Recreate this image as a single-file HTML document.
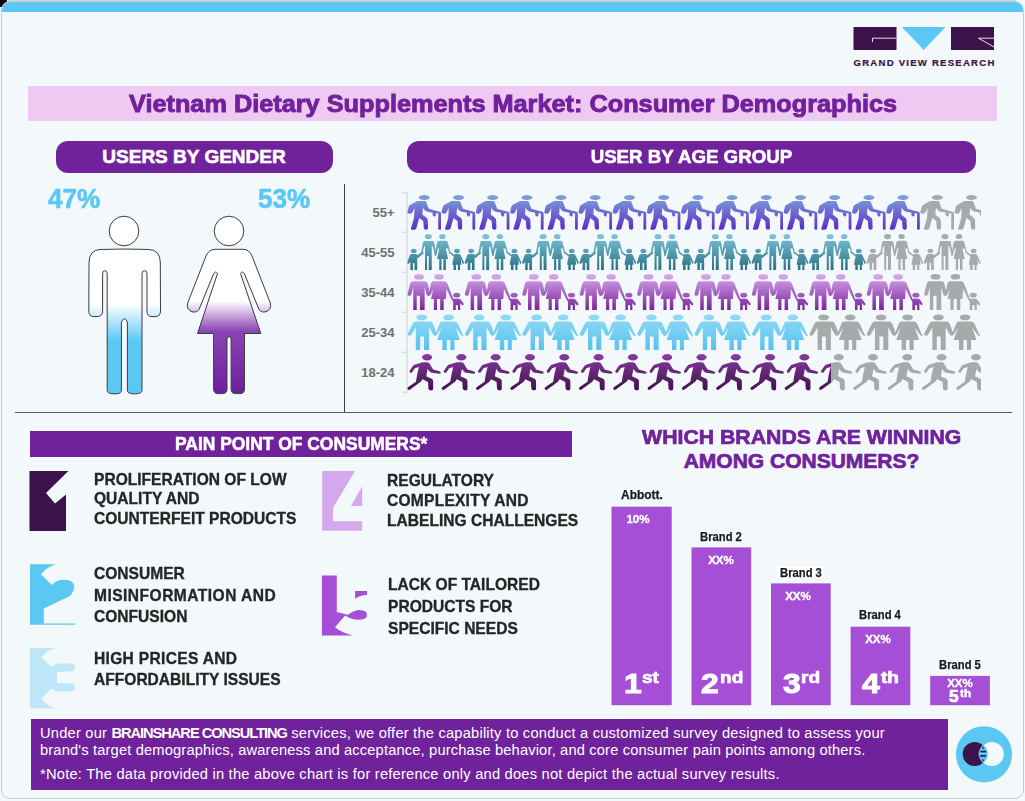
<!DOCTYPE html>
<html><head><meta charset="utf-8">
<style>
*{margin:0;padding:0;box-sizing:border-box}
html,body{width:1025px;height:801px;overflow:hidden;background:#f3f8fb;font-family:"Liberation Sans",sans-serif}
.a{position:absolute}
#frame{position:absolute;left:0.5px;top:0.5px;width:1023.5px;height:798.7px;border:1.7px solid #cbcbcb;border-radius:9px;overflow:hidden;background:#f3f8fb}
#stripe{position:absolute;left:0;top:0;width:100%;height:10px;background:#5bc8f4}
.pill{position:absolute;background:#70219c;border-radius:12px;color:#fff;font-weight:bold;text-align:center;white-space:nowrap;-webkit-text-stroke:0.6px #fff}
.nw{white-space:nowrap}
.item{position:absolute;color:#262626;font-weight:bold;font-size:16.7px;white-space:nowrap;transform-origin:0 0;transform:scaleX(0.933);-webkit-text-stroke:0.35px #262626}
.bar{position:absolute;background:#a44fd6}
.blab{position:absolute;color:#1a1a1a;font-weight:bold;font-size:12.2px;white-space:nowrap;text-align:center;transform-origin:50% 0;transform:scaleX(0.92);-webkit-text-stroke:0.25px #1a1a1a}
.bval{position:absolute;color:#fff;font-weight:bold;font-size:11px;white-space:nowrap;text-align:center;-webkit-text-stroke:0.35px #fff;transform-origin:50% 0;transform:scaleX(1.05)}
.rk{position:absolute;color:#fff;font-weight:bold;white-space:nowrap;line-height:1;transform-origin:0 0}
.rank{position:absolute;color:#fff;font-weight:bold;font-size:29px;white-space:nowrap;text-align:center;line-height:1}
.rank sup{font-size:17px;vertical-align:top;position:relative;top:-2px}
.alab{position:absolute;color:#707070;font-weight:bold;font-size:13px;white-space:nowrap;text-align:right;width:60px}
</style></head><body>
<div class="a" style="left:0;top:0;width:6.5px;height:6.5px;background:#000;border-bottom-right-radius:3px"></div>
<div id="frame"><div id="stripe"></div></div>
<div class="a" style="left:8px;top:0;width:1008px;height:1px;background:#c6d9e1"></div>

<!-- logo -->
<svg class="a" style="left:850px;top:24px" width="150" height="46" viewBox="850 24 150 46">
  <rect x="853.5" y="27" width="43" height="23" fill="#3b1249"/>
  <polyline points="872.5,42 872.5,38.2 896.5,38.2" fill="none" stroke="#f3f8fb" stroke-width="0.9"/>
  <polygon points="902,27 945.5,27 923.7,50" fill="#5bc8f4"/>
  <rect x="951" y="27" width="43" height="23" fill="#3b1249"/>
  <polyline points="994,38.2 978.5,38.2 994,47" fill="none" stroke="#f3f8fb" stroke-width="0.9"/>
</svg>
<div id="gvr" class="a nw" style="left:853.5px;top:56.8px;font-size:9.6px;font-weight:bold;letter-spacing:1.22px;color:#3b1249;-webkit-text-stroke:0.2px #3b1249">GRAND VIEW RESEARCH</div>


<svg class="a" style="left:0;top:0" width="1025" height="801" viewBox="0 0 1025 801">
<defs>
<linearGradient id="gm" gradientUnits="userSpaceOnUse" x1="0" y1="304" x2="0" y2="341"><stop offset="0" stop-color="#ffffff"/><stop offset="1" stop-color="#5bc8f4"/></linearGradient>
<linearGradient id="gf" gradientUnits="userSpaceOnUse" x1="0" y1="301" x2="0" y2="393"><stop offset="0" stop-color="#ffffff"/><stop offset="0.33" stop-color="#8a44b4"/><stop offset="1" stop-color="#6e1f9c"/></linearGradient>
</defs>
<!-- male -->
<circle cx="124" cy="231" r="14.8" fill="#fff" stroke="#3c3c46" stroke-width="1"/>
<path fill="url(#gm)" stroke="#3c3c46" stroke-width="1" d="M100,249.5 Q124.5,248.5 149,249.5 Q159.8,250 160.3,262 L160.5,311 Q160.5,316.6 155,316.6 L152,316.6 Q147,316.6 147,311 L147,273.5 Q147,270.7 144.5,270.7 Q142,270.7 142,273.5 L142,390 Q142,393.8 136,393.8 L133,393.8 Q127.4,393.8 127.4,390 L127.4,322 Q124.4,315.5 121.4,322 L121.4,390 Q121.4,393.8 116,393.8 L113,393.8 Q107.2,393.8 107.2,390 L107.2,273.5 Q107.2,270.7 104.9,270.7 Q102.6,270.7 102.6,273.5 L102.6,311 Q102.6,316.6 97,316.6 L94,316.6 Q88.8,316.6 88.8,311 L89,262 Q89.5,250 100,249.5 Z"/>
<!-- female -->
<circle cx="229" cy="231" r="14.8" fill="#fff" stroke="#3c3c46" stroke-width="1"/>
<path fill="url(#gf)" stroke="#3c3c46" stroke-width="1" d="M215,249.3 L243.5,249.3 Q249,249.3 252,256 L270.3,303 Q272,309.5 266,311.8 Q261,312.8 259,309.5 L244.5,274 Q242.5,270.3 240.5,273.5 L260.8,333.5 L244.5,333.5 L244.5,389 Q244.5,393.6 240,393.6 L235.5,393.6 Q231.1,393.6 231.1,389 L231.1,339 Q229,333.5 227,339 L227,389 Q227,393.6 222.5,393.6 L218,393.6 Q213.6,393.6 213.6,389 L213.6,333.5 L197.5,333.5 L217.5,273.5 Q215.5,270.3 213.5,274 L199,309.5 Q197,312.8 192,311.8 Q186,309.5 187.7,303 L206,256 Q209,249.3 215,249.3 Z"/>
<!-- age axis -->
<g stroke="#dadde0" stroke-width="1.5" fill="none">
<line x1="407" y1="192" x2="407" y2="393"/>
<line x1="402" y1="192.6" x2="407" y2="192.6"/>
<line x1="402" y1="232.3" x2="407" y2="232.3"/>
<line x1="402" y1="272.3" x2="407" y2="272.3"/>
<line x1="402" y1="312.3" x2="407" y2="312.3"/>
<line x1="402" y1="352.4" x2="407" y2="352.4"/>
<line x1="402" y1="392.3" x2="407" y2="392.3"/>
</g>
<defs>
<linearGradient id="g55" gradientUnits="userSpaceOnUse" x1="0" y1="194.5" x2="0" y2="230.5"><stop offset="0" stop-color="#7ea6da"/><stop offset="1" stop-color="#5a2cc6"/></linearGradient>
<linearGradient id="g45" gradientUnits="userSpaceOnUse" x1="0" y1="234.0" x2="0" y2="270.0"><stop offset="0" stop-color="#80c6da"/><stop offset="1" stop-color="#2b7186"/></linearGradient>
<linearGradient id="g35" gradientUnits="userSpaceOnUse" x1="0" y1="274.0" x2="0" y2="310.0"><stop offset="0" stop-color="#d9abf2"/><stop offset="1" stop-color="#7a2398"/></linearGradient>
<linearGradient id="g25" gradientUnits="userSpaceOnUse" x1="0" y1="314.0" x2="0" y2="350.0"><stop offset="0" stop-color="#93daf5"/><stop offset="1" stop-color="#58c2f0"/></linearGradient>
<linearGradient id="g18" gradientUnits="userSpaceOnUse" x1="0" y1="354.0" x2="0" y2="390.0"><stop offset="0" stop-color="#8b3aa2"/><stop offset="1" stop-color="#3f144d"/></linearGradient>
<g id="ic_old" transform="translate(-1.8,-2.5) scale(0.04993)">
<ellipse cx="370" cy="110" rx="108" ry="50"/>
<path d="M230,180 L390,180 Q410,190 420,230 L460,335 L580,370 L680,395 Q705,400 705,430 L705,735 Q705,755 680,755 Q650,755 650,735 L650,430 L605,420 L600,470 Q590,500 560,485 L535,460 L540,415 L420,390 Q380,375 360,340 L345,310 L330,450 L420,520 Q440,540 440,570 L445,720 Q445,755 405,755 Q365,750 360,720 L350,580 L270,520 L210,730 Q195,755 160,755 L120,755 Q90,750 105,720 L165,520 L175,320 L135,400 Q120,440 80,435 Q25,425 35,390 L60,290 Q70,260 110,245 Z"/>
</g>
<g id="ic_run" transform="translate(-2.6,-2) scale(0.07315)">
<ellipse cx="302" cy="72" rx="68" ry="43"/>
<path d="M240,140 L305,140 Q335,145 345,175 L385,240 L470,262 Q500,272 488,292 L470,297 L370,285 Q345,280 330,260 L310,230 L290,330 L365,365 Q385,378 385,400 L385,505 Q385,525 355,525 Q320,522 320,500 L315,410 L240,372 L215,405 L70,512 Q50,527 35,507 Q28,490 45,478 L150,405 L168,300 L190,205 L135,222 L100,272 Q85,292 68,280 Q52,265 68,248 L108,192 Q120,176 140,172 Z"/>
</g>
<g id="ic_f4" transform="translate(-2.6,-2) scale(0.06341)">
<ellipse cx="138" cy="300" rx="45" ry="34"/>
<path d="M100,345 L175,345 Q195,348 200,365 L280,315 L300,330 L205,410 L192,410 L192,600 L150,600 L150,490 L125,490 L125,600 L85,600 L85,470 L60,500 Q40,505 35,485 L70,380 Q78,350 100,345 Z"/>
<ellipse cx="368" cy="72" rx="55" ry="42"/>
<path d="M300,142 L440,142 Q458,146 462,170 L492,345 Q494,374 473,374 L441.6,235 Q437,226 432,226 L421.8,226 L421.8,600 L374.6,600 L374.6,378 L347,378 L347,600 L315.3,600 L315.3,226 L305,226 Q300,226 298,235 L276,347 L212,394 Q194,394 198,372 L256,318 L282,170 Q286,146 300,142 Z"/>
<ellipse cx="590" cy="72" rx="52" ry="40"/>
<path d="M535,138 L650,138 Q668,142 675,165 L712,310 L790,370 L778,390 L695,330 L680,260 L645,260 L680,425 L645,425 L645,600 L605,600 L605,425 L575,425 L575,600 L540,600 L540,425 L505,425 L540,260 L520,260 L490,375 L468,370 L505,165 Q515,142 535,138 Z"/>
<ellipse cx="820" cy="300" rx="45" ry="35"/>
<path d="M785,345 L855,345 Q872,348 880,370 L930,480 Q935,500 912,505 L880,430 L890,515 L868,515 L868,600 L835,600 L835,515 L805,515 L805,600 L765,600 L765,515 L745,515 L760,420 L775,390 L765,385 Q770,350 785,345 Z"/>
</g>
<g id="ic_f3" transform="translate(-2.6,-2) scale(0.06341)">
<ellipse cx="220" cy="75" rx="78" ry="45"/>
<path d="M120,145 L320,145 Q352,150 360,185 L400,350 Q400,378 372,378 Q345,375 340,350 L310,240 L310,600 L235,600 L235,375 L185,375 L185,600 L130,600 L130,240 L100,355 Q90,380 62,375 Q35,368 40,345 L80,185 Q92,150 120,145 Z"/>
<ellipse cx="535" cy="75" rx="75" ry="45"/>
<path d="M440,145 L625,145 Q660,150 672,185 L760,420 Q758,445 740,440 L655,270 L645,425 L610,425 L610,600 L555,600 L555,425 L505,425 L505,600 L455,600 L455,425 L410,425 L445,270 L405,360 L375,360 L405,190 Q415,152 440,145 Z"/>
<ellipse cx="815" cy="365" rx="55" ry="38"/>
<path d="M775,420 L855,420 Q875,425 885,445 L925,500 Q928,530 900,525 L870,490 L870,600 L835,600 L835,525 L800,525 L800,600 L760,600 L760,470 L745,455 L750,425 Z"/>
</g>
<g id="ic_cp" transform="translate(-2.6,-2) scale(0.06341)">
<ellipse cx="265" cy="85" rx="85" ry="45"/>
<path d="M165,150 L400,150 Q430,155 442,185 L505,345 Q500,378 470,375 Q450,370 440,350 L380,240 L380,600 L300,600 L300,385 L240,385 L240,600 L170,600 L170,245 L100,360 Q80,382 55,372 Q35,360 45,335 L120,185 Q135,155 165,150 Z"/>
<ellipse cx="685" cy="85" rx="85" ry="45"/>
<path d="M580,150 L790,150 Q820,155 835,185 L905,345 Q935,360 920,375 Q895,382 880,360 L800,250 L865,440 L780,440 L780,600 L715,600 L715,440 L660,440 L660,600 L590,600 L590,440 L505,440 L575,250 L505,360 L475,365 L545,185 Q555,155 580,150 Z"/>
</g>
<mask id="m55" maskUnits="userSpaceOnUse" x="0" y="0" width="1025" height="801"><g fill="#fff">
<use href="#ic_old" transform="translate(407.6,194.5)"/>
<use href="#ic_old" transform="translate(441.8,194.5)"/>
<use href="#ic_old" transform="translate(476,194.5)"/>
<use href="#ic_old" transform="translate(510.2,194.5)"/>
<use href="#ic_old" transform="translate(544.4,194.5)"/>
<use href="#ic_old" transform="translate(578.6,194.5)"/>
<use href="#ic_old" transform="translate(612.8,194.5)"/>
<use href="#ic_old" transform="translate(647,194.5)"/>
<use href="#ic_old" transform="translate(681.2,194.5)"/>
<use href="#ic_old" transform="translate(715.4,194.5)"/>
<use href="#ic_old" transform="translate(749.6,194.5)"/>
<use href="#ic_old" transform="translate(783.8,194.5)"/>
<use href="#ic_old" transform="translate(818,194.5)"/>
<use href="#ic_old" transform="translate(852.2,194.5)"/>
<use href="#ic_old" transform="translate(886.4,194.5)"/>
<use href="#ic_old" transform="translate(920.6,194.5)"/>
<use href="#ic_old" transform="translate(954.8,194.5)"/>
</g></mask>
<mask id="m45" maskUnits="userSpaceOnUse" x="0" y="0" width="1025" height="801"><g fill="#fff">
<use href="#ic_f4" transform="translate(407.6,234)"/>
<use href="#ic_f4" transform="translate(465,234)"/>
<use href="#ic_f4" transform="translate(522.4,234)"/>
<use href="#ic_f4" transform="translate(579.8,234)"/>
<use href="#ic_f4" transform="translate(637.2,234)"/>
<use href="#ic_f4" transform="translate(694.6,234)"/>
<use href="#ic_f4" transform="translate(752,234)"/>
<use href="#ic_f4" transform="translate(809.4,234)"/>
<use href="#ic_f4" transform="translate(866.8,234)"/>
<use href="#ic_f4" transform="translate(924.2,234)"/>
</g></mask>
<mask id="m35" maskUnits="userSpaceOnUse" x="0" y="0" width="1025" height="801"><g fill="#fff">
<use href="#ic_f3" transform="translate(407.6,274)"/>
<use href="#ic_f3" transform="translate(465,274)"/>
<use href="#ic_f3" transform="translate(522.4,274)"/>
<use href="#ic_f3" transform="translate(579.8,274)"/>
<use href="#ic_f3" transform="translate(637.2,274)"/>
<use href="#ic_f3" transform="translate(694.6,274)"/>
<use href="#ic_f3" transform="translate(752,274)"/>
<use href="#ic_f3" transform="translate(809.4,274)"/>
<use href="#ic_f3" transform="translate(866.8,274)"/>
<use href="#ic_f3" transform="translate(924.2,274)"/>
</g></mask>
<mask id="m25" maskUnits="userSpaceOnUse" x="0" y="0" width="1025" height="801"><g fill="#fff">
<use href="#ic_cp" transform="translate(407.6,314)"/>
<use href="#ic_cp" transform="translate(465,314)"/>
<use href="#ic_cp" transform="translate(522.4,314)"/>
<use href="#ic_cp" transform="translate(579.8,314)"/>
<use href="#ic_cp" transform="translate(637.2,314)"/>
<use href="#ic_cp" transform="translate(694.6,314)"/>
<use href="#ic_cp" transform="translate(752,314)"/>
<use href="#ic_cp" transform="translate(809.4,314)"/>
<use href="#ic_cp" transform="translate(866.8,314)"/>
<use href="#ic_cp" transform="translate(924.2,314)"/>
</g></mask>
<mask id="m18" maskUnits="userSpaceOnUse" x="0" y="0" width="1025" height="801"><g fill="#fff">
<use href="#ic_run" transform="translate(407.6,354)"/>
<use href="#ic_run" transform="translate(441.9,354)"/>
<use href="#ic_run" transform="translate(476.2,354)"/>
<use href="#ic_run" transform="translate(510.5,354)"/>
<use href="#ic_run" transform="translate(544.8,354)"/>
<use href="#ic_run" transform="translate(579.1,354)"/>
<use href="#ic_run" transform="translate(613.4,354)"/>
<use href="#ic_run" transform="translate(647.7,354)"/>
<use href="#ic_run" transform="translate(682,354)"/>
<use href="#ic_run" transform="translate(716.3,354)"/>
<use href="#ic_run" transform="translate(750.6,354)"/>
<use href="#ic_run" transform="translate(784.9,354)"/>
<use href="#ic_run" transform="translate(819.2,354)"/>
<use href="#ic_run" transform="translate(853.5,354)"/>
<use href="#ic_run" transform="translate(887.8,354)"/>
<use href="#ic_run" transform="translate(922.1,354)"/>
<use href="#ic_run" transform="translate(956.4,354)"/>
</g></mask>
</defs>
<g mask="url(#m55)"><rect x="406" y="190.5" width="515" height="44" fill="url(#g55)"/><rect x="921" y="190.5" width="60" height="44" fill="#a7a9aa"/></g>
<g mask="url(#m45)"><rect x="406" y="230.0" width="460" height="44" fill="url(#g45)"/><rect x="866" y="230.0" width="115" height="44" fill="#a7a9aa"/></g>
<g mask="url(#m35)"><rect x="406" y="270.0" width="516" height="44" fill="url(#g35)"/><rect x="922" y="270.0" width="59" height="44" fill="#a7a9aa"/></g>
<g mask="url(#m25)"><rect x="406" y="310.0" width="402" height="44" fill="url(#g25)"/><rect x="808" y="310.0" width="173" height="44" fill="#a7a9aa"/></g>
<g mask="url(#m18)"><rect x="406" y="350.0" width="425" height="44" fill="url(#g18)"/><rect x="831" y="350.0" width="150" height="44" fill="#a7a9aa"/></g>
<!-- number icons -->
<path fill="#3b1249" d="M29.5,471 L68.4,471 L46,493 L55,503.5 L66,494.5 L66,531 L29.5,531 Z"/>
<path fill="#5bc8f4" d="M30,564.2 L56,564.2 Q46,567 41.2,574.4 L51.8,585 Q56,580 62.5,579.7 Q72,579 74.1,585 Q75,590 70,596 L43.8,608.4 L43.8,623.5 L75.2,623.5 L75.2,624.7 L30,624.7 Z"/>
<path fill="#bde6f8" d="M30,648 L56,648 Q46,651 41.2,657.2 L51.3,666.8 Q55,663.6 59.3,663.6 L70,663.6 Q75,664 75,667.5 Q75,671 70,671.5 L57,672 L57,683 L70,683.5 Q75,684 75,687.5 Q75,691 70,691.5 L59.3,691.5 Q55,691.5 51.3,688.5 L41.2,698.6 Q46,706 56,708.2 L30,708.2 Z"/>
<path fill="#d4a8ec" d="M322.2,471 L355,471 L333,507.7 L333,521.2 L362.2,521.2 L362.2,530.8 L322.2,530.8 Z M362.2,486.3 L362.2,506 L351,506 Z"/>
<path fill="#a44fd6" d="M321.9,575.4 L336.8,575.4 L336.8,612 L348,614.8 Q355,609.5 361,610.2 Q366.8,611 366.8,614 L366.8,616.8 Q365,619.8 358,619.8 Q351,619.5 346.5,616.2 L345.1,615.4 L335,627.3 Q342,633 353,635.6 L321.9,635.6 Z M355.1,591 L367,591 L367,594.9 Q360,595 355.1,598.8 Z"/>
<!-- bars -->
<rect x="611.5" y="506.7" width="60.2" height="198.5" fill="#a44fd6"/>
<rect x="691.5" y="547.4" width="59.7" height="157.8" fill="#a44fd6"/>
<rect x="771" y="583.4" width="59.7" height="121.8" fill="#a44fd6"/>
<rect x="850.6" y="626.7" width="59.7" height="78.5" fill="#a44fd6"/>
<rect x="930.2" y="675.9" width="59.7" height="29.3" fill="#a44fd6"/>
<rect x="776.9" y="567" width="47.5" height="10.6" fill="#ffffff"/>
<!-- circle logo -->
<circle cx="984" cy="754.3" r="28.1" fill="#5bc8f4"/>
<circle cx="974.7" cy="753.9" r="12" fill="#3b1249"/>
<circle cx="991.8" cy="753.9" r="12" fill="#f3f8fb"/>
<path fill="#5bc8f4" d="M983.2,744.6 Q992.4,754 983.2,763.4 Q974,754 983.2,744.6 Z"/>
<g fill="#3b1249"><path d="M981.9,748.6 L983.2,746.4 L984.5,748.6 Z"/><rect x="980.3" y="750.7" width="5.8" height="1.7"/><rect x="980.3" y="755" width="5.8" height="1.7"/><path d="M981.9,759.4 L984.5,759.4 L983.2,761.6 Z"/></g>
</svg>

<!-- title -->
<div class="a" style="left:28px;top:86px;width:969px;height:35.3px;background:#eecaf2"></div>
<div id="title" class="a nw" style="left:129.4px;top:90.5px;font-size:23.5px;font-weight:bold;color:#70219c;transform-origin:0 0;transform:scaleX(1.076);-webkit-text-stroke:0.9px #70219c">Vietnam Dietary Supplements Market: Consumer Demographics</div>

<!-- pills -->
<div class="pill" style="left:55.5px;top:141px;width:277px;height:32px;font-size:19px;line-height:31px">USERS BY GENDER</div>
<div class="pill" style="left:407px;top:141px;width:569px;height:32px;font-size:19px;line-height:31px"><span style="display:inline-block;transform:scaleX(0.984)">USER BY AGE GROUP</span></div>

<!-- percents -->
<div id="p47" class="a nw" style="left:47.6px;top:182.5px;font-size:27.8px;font-weight:bold;color:#5bc8f4;transform-origin:0 0;transform:scaleX(0.94);-webkit-text-stroke:0.6px #5bc8f4">47%</div>
<div id="p53" class="a nw" style="left:258px;top:182.5px;font-size:27.8px;font-weight:bold;color:#5bc8f4;transform-origin:0 0;transform:scaleX(0.94);-webkit-text-stroke:0.6px #5bc8f4">53%</div>

<!-- dividers -->
<div class="a" style="left:344px;top:184px;width:1.2px;height:229px;background:#3e3b46"></div>
<div class="a" style="left:15px;top:411.7px;width:997px;height:1.2px;background:#56545c"></div>

<!-- pain point -->
<div class="a" style="left:30px;top:430.5px;width:542px;height:26px;background:#70219c"></div>
<div id="pain" class="a nw" style="left:174.5px;top:432.5px;font-size:19px;font-weight:bold;color:#fff;transform-origin:0 0;transform:scaleX(0.917);-webkit-text-stroke:0.6px #fff">PAIN POINT OF CONSUMERS*</div>

<!-- which brands -->
<div id="which" class="a nw" style="left:540px;top:424.6px;width:523px;text-align:center;font-size:21px;font-weight:bold;color:#70219c;line-height:24px;-webkit-text-stroke:0.7px #70219c"><span style="display:inline-block;transform:scaleX(1.012)">WHICH BRANDS ARE WINNING</span><br>AMONG CONSUMERS?</div>


<!-- age labels -->
<div class="alab" style="left:334.5px;top:204.8px">55+</div>
<div class="alab" style="left:334.5px;top:244.8px">45-55</div>
<div class="alab" style="left:334.5px;top:284.8px">35-44</div>
<div class="alab" style="left:334.5px;top:324.8px">25-34</div>
<div class="alab" style="left:334.5px;top:364.8px">18-24</div>

<!-- items -->
<div class="item" style="left:94px;top:470px;line-height:19.3px">PROLIFERATION OF LOW<br>QUALITY AND<br>COUNTERFEIT PRODUCTS</div>
<div class="item" style="left:94px;top:563px;line-height:21.5px">CONSUMER<br><span style="letter-spacing:0.5px">MISINFORMATION AND</span><br>CONFUSION</div>
<div class="item" style="left:94px;top:648px;line-height:21.1px"><span style="letter-spacing:0.33px">HIGH PRICES AND</span><br>AFFORDABILITY ISSUES</div>
<div class="item" style="left:387px;top:470.6px;line-height:20.3px">REGULATORY<br><span style="letter-spacing:0.25px">COMPLEXITY AND</span><br>LABELING CHALLENGES</div>
<div class="item" style="left:387.6px;top:574px;line-height:21.8px">LACK OF TAILORED<br>PRODUCTS FOR<br>SPECIFIC NEEDS</div>

<!-- bar labels -->
<div class="blab" style="left:591.9px;top:488px;width:100px;transform:scaleX(0.98)">Abbott.</div>
<div class="blab" style="left:671.2px;top:530px;width:100px">Brand 2</div>
<div class="blab" style="left:750.8px;top:566px;width:100px">Brand 3</div>
<div class="blab" style="left:830.4px;top:608px;width:100px">Brand 4</div>
<div class="blab" style="left:910px;top:658px;width:100px">Brand 5</div>
<div class="bval" style="left:587.6px;top:513px;width:100px">10%</div>
<div class="bval" style="left:670.5px;top:554px;width:100px">XX%</div>
<div class="bval" style="left:747.5px;top:590px;width:100px">XX%</div>
<div class="bval" style="left:827.8px;top:633px;width:100px">XX%</div>
<div class="bval" style="left:909.8px;top:677px;width:100px">XX%</div>
<div class="rk" style="left:623.6px;top:669px;font-size:28.5px;-webkit-text-stroke:1px #fff;transform:scaleX(1.12)">1</div>
<div class="rk" style="left:642.3px;top:668.5px;font-size:17px;-webkit-text-stroke:0.7px #fff;transform:scaleX(1.12)">st</div>
<div class="rk" style="left:701.4px;top:669px;font-size:28.5px;-webkit-text-stroke:1px #fff;transform:scaleX(1.12)">2</div>
<div class="rk" style="left:720.1px;top:668.5px;font-size:17px;-webkit-text-stroke:0.7px #fff;transform:scaleX(1.12)">nd</div>
<div class="rk" style="left:782.6px;top:669px;font-size:28.5px;-webkit-text-stroke:1px #fff;transform:scaleX(1.12)">3</div>
<div class="rk" style="left:801.3px;top:668.5px;font-size:17px;-webkit-text-stroke:0.7px #fff;transform:scaleX(1.12)">rd</div>
<div class="rk" style="left:861.7px;top:669px;font-size:28.5px;-webkit-text-stroke:1px #fff;transform:scaleX(1.12)">4</div>
<div class="rk" style="left:880.8px;top:668.5px;font-size:17px;-webkit-text-stroke:0.7px #fff;transform:scaleX(1.12)">th</div>
<div class="rk" style="left:949px;top:687.8px;font-size:17px;-webkit-text-stroke:0.7px #fff;transform:scaleX(1.0)">5</div>
<div class="rk" style="left:960.3px;top:688.3px;font-size:10.5px;-webkit-text-stroke:0.4px #fff;transform:scaleX(1.12)">th</div>

<!-- bottom band -->
<div class="a" style="left:30.5px;top:718.5px;width:917.5px;height:71px;background:#70219c"></div>
<div id="l1" class="a nw" style="left:40px;top:724.5px;font-size:14.7px;color:#fff;line-height:17px;letter-spacing:0.2px">Under our <b style="letter-spacing:-1.07px">BRAINSHARE CONSULTING</b> services, we offer the capability to conduct a customized survey designed to assess your</div>
<div id="l2" class="a nw" style="left:40px;top:742.3px;font-size:14.7px;color:#fff;line-height:17px;letter-spacing:0.15px">brand's target demographics, awareness and acceptance, purchase behavior, and core consumer pain points among others.</div>
<div id="l3" class="a nw" style="left:40px;top:766.2px;font-size:14.7px;color:#fff;line-height:17px;letter-spacing:0.214px">*Note: The data provided in the above chart is for reference only and does not depict the actual survey results.</div>

</body></html>
